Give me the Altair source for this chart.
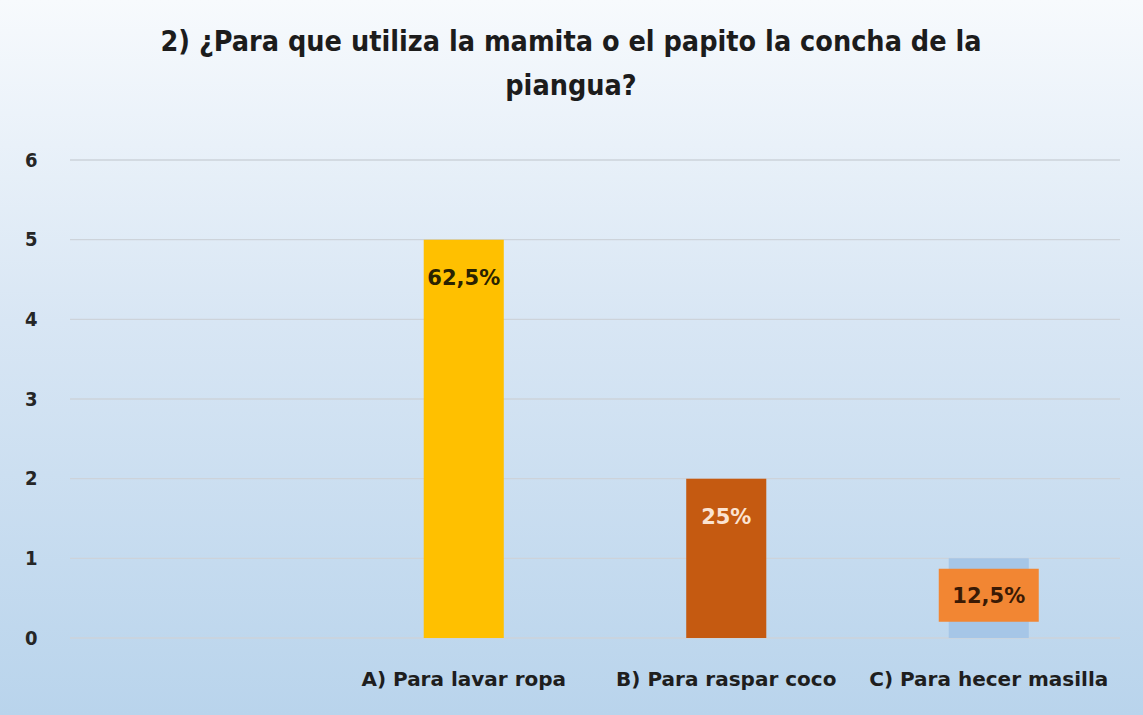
import altair as alt
import pandas as pd

categories = ["A) Para lavar ropa", "B) Para raspar coco", "C) Para hecer masilla"]
values = [5, 2, 1]
labels = ["62,5%", "25%", "12,5%"]
bar_colors = ["#ffc000", "#c55a11", "#a6c6e7"]
label_colors = ["#2a2200", "#fbe3d2", "#3a1a05"]
y_ticks = [0, 1, 2, 3, 4, 5, 6]
title_lines = ["2) ¿Para que utiliza la mamita o el papito la concha de la", "piangua?"]

domain = [" "] + categories

df = pd.DataFrame({"cat": categories, "value": values, "label": labels,
                   "bar_color": bar_colors, "label_color": label_colors})
grid_df = pd.DataFrame({"value": y_ticks})
box_df = df[df["cat"] == categories[2]]

FONT = "DejaVu Sans Condensed, DejaVu Sans, sans-serif"
FONT_WIDE = "DejaVu Sans, sans-serif"
W, H = 1050, 478

xscale = alt.Scale(domain=domain, paddingInner=0.695, paddingOuter=0.3475)
yscale = alt.Scale(domain=[0, 6])

x_axis = alt.Axis(labelAngle=0, labelFontSize=20, labelFont=FONT_WIDE, labelFontWeight="bold",
                  labelColor="#1e1e1e", labelPadding=31, ticks=False, domain=False,
                  grid=False, labelLimit=400, zindex=2)
y_axis = alt.Axis(values=y_ticks, labelFontSize=20, labelFont=FONT, labelFontWeight="bold",
                  labelColor="#262626", labelPadding=33, ticks=False, domain=False, grid=False,
                  zindex=2)

def X():
    return alt.X("cat:N", scale=xscale, sort=domain, title=None, axis=x_axis)

def Y():
    return alt.Y("value:Q", scale=yscale, title=None, axis=y_axis)

bg = alt.Chart(grid_df).mark_rect(
    color=alt.Gradient(gradient="linear", x1=0, x2=0, y1=0, y2=1,
                       stops=[alt.GradientStop(offset=0, color="#f7fafd"),
                              alt.GradientStop(offset=0.45, color="#d8e6f4"),
                              alt.GradientStop(offset=1, color="#b9d4ec")])
).encode(x=alt.value(-70), x2=alt.value(W + 23), y=alt.value(-160), y2=alt.value(H + 77))

grid = alt.Chart(grid_df).mark_rule(color="#cdd3da", strokeWidth=1.3).encode(
    y=Y(), x=alt.value(0), x2=alt.value(W))

bars = alt.Chart(df).mark_bar().encode(
    x=X(), y=Y(),
    color=alt.Color("bar_color:N", scale=None, legend=None))

box = alt.Chart(box_df).mark_point(
    shape="M-1,0.21H1V1.27H-1Z", size=10000, filled=True, opacity=1, color="#f28633"
).encode(x=X(), y=Y())

text = alt.Chart(df).mark_text(
    font=FONT_WIDE, fontSize=21, fontWeight="bold", dy=39, baseline="middle"
).encode(x=X(), y=Y(),
         text="label:N",
         color=alt.Color("label_color:N", scale=None, legend=None))

chart = alt.layer(bg, grid, bars, box, text).properties(
    width=W, height=H,
    autosize=alt.AutoSizeParams(type="none"),
    padding={"left": 70, "top": 160, "right": 23, "bottom": 77},
    background="#ffffff",
    title=alt.TitleParams(text=title_lines, font=FONT, fontSize=28.5, fontWeight="bold",
                          color="#1c1c1c", anchor="middle", offset=-100, dx=-24, lineHeight=44),
).configure_view(stroke=None)

chart.save("out.html", embed_options={"renderer": "svg", "actions": False})
